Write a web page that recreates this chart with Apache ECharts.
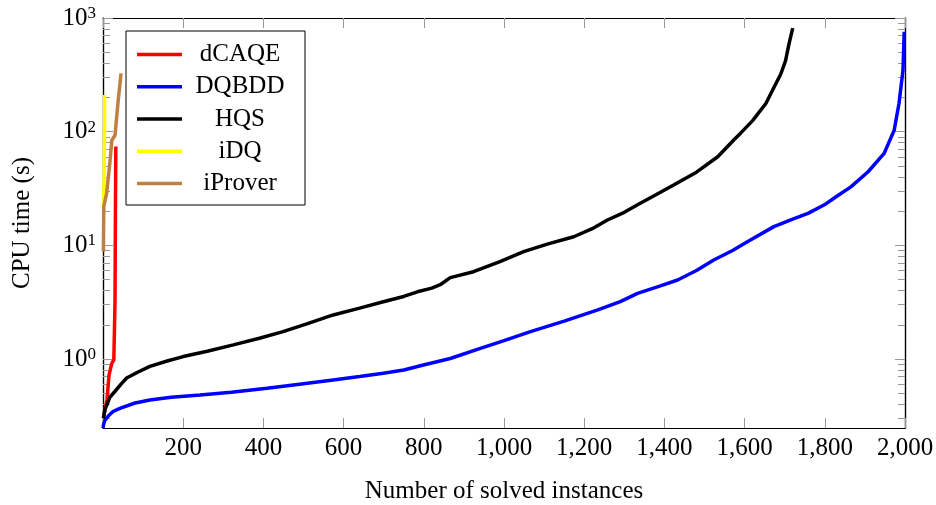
<!DOCTYPE html>
<html>
<head>
<meta charset="utf-8">
<script src="https://cdn.jsdelivr.net/npm/echarts@6/dist/echarts.min.js"></script>
<style>
html, body { margin: 0; padding: 0; background: #fff; }
#chart { width: 936px; height: 505px; }
</style>
</head>
<body>
<div id="chart"></div>
<script>
// values (x = solved instances, y = CPU time in s)
var dcaqe = [[1, 0.3], [3, 0.33], [10, 0.44], [15, 0.72], [22, 0.92], [27, 0.98], [30, 3.3], [31, 20], [32, 74]];
var dqbdd = [[0, 0.247], [2, 0.27], [5, 0.29], [15, 0.32], [25, 0.345], [42, 0.368], [80, 0.41], [117, 0.436],
    [170, 0.46], [242, 0.482], [320, 0.51], [409, 0.552], [490, 0.6], [574, 0.654], [640, 0.7], [699, 0.748],
    [750, 0.8], [799, 0.885], [866, 1.01], [941, 1.24], [1000, 1.45], [1066, 1.74], [1150, 2.15], [1234, 2.7],
    [1290, 3.2], [1333, 3.78], [1390, 4.4], [1433, 4.95], [1480, 6.0], [1523, 7.43], [1570, 9.0], [1608, 10.8],
    [1673, 14.6], [1720, 17.0], [1758, 19.1], [1798, 22.6], [1830, 27], [1865, 32.7], [1908, 44.4], [1948, 64.4],
    [1973, 103], [1985, 177], [1995, 348], [1998, 756]];
var hqs = [[1, 0.3], [5, 0.36], [17, 0.46], [30, 0.52], [45, 0.6], [59, 0.68], [85, 0.76], [117, 0.86],
    [160, 0.96], [200, 1.05], [260, 1.17], [325, 1.33], [390, 1.52], [449, 1.74], [510, 2.05], [574, 2.44],
    [640, 2.8], [699, 3.19], [750, 3.55], [784, 3.9], [820, 4.2], [841, 4.5], [866, 5.2], [924, 5.86],
    [990, 7.2], [1049, 8.79], [1110, 10.3], [1174, 11.9], [1220, 14], [1258, 16.7], [1300, 19.5], [1341, 23.6],
    [1380, 28], [1423, 33.9], [1480, 44], [1533, 60.1], [1573, 84.4], [1590, 97], [1620, 125], [1653, 177],
    [1674, 248], [1690, 320], [1702, 420], [1711, 597], [1720, 815]];
var idq = [[2, 22], [3, 45], [4, 120], [4, 210]];
var iprover = [[1, 8.8], [2, 22], [9, 28.6], [17, 52.6], [22, 84], [30, 93], [38, 190], [45, 326]];

var names = ['dCAQE', 'DQBDD', 'HQS', 'iDQ', 'iProver'];
var colors = ['#ff0000', '#0000ff', '#000000', '#ffff00', '#bf8040'];
var majorTicks = [1, 10, 100, 1000];
var minorTicks = [0.3, 0.4, 0.5, 0.6, 0.7, 0.8, 0.9, 2, 3, 4, 5, 6, 7, 8, 9,
    20, 30, 40, 50, 60, 70, 80, 90, 200, 300, 400, 500, 600, 700, 800, 900];

var font = 'Liberation Serif';
var tickColor = '#999';

function yAxisDef(pos, ticks, len, labels) {
    return {
        type: 'log',
        logBase: 10,
        min: 0.247,
        max: 1000,
        position: pos,
        axisLine: { show: true, lineStyle: { color: '#000', width: 1.2 } },
        axisTick: { show: true, inside: true, length: len, customValues: ticks, lineStyle: { color: tickColor } },
        axisLabel: labels ? {
            customValues: majorTicks,
            margin: 7,
            formatter: function (v) {
                return '{b|10}{s|' + Math.round(Math.log10(v)) + '}';
            },
            rich: {
                b: { fontFamily: font, fontSize: 25, color: '#000', lineHeight: 26 },
                s: { fontFamily: font, fontSize: 17, color: '#000', lineHeight: 14, verticalAlign: 'top' }
            }
        } : { show: false },
        splitLine: { show: false },
        minorTick: { show: false }
    };
}

var yAxes = [yAxisDef('left', majorTicks, 10, true), yAxisDef('left', minorTicks, 7, false),
    yAxisDef('right', majorTicks, 10, false), yAxisDef('right', minorTicks, 7, false)];
yAxes[0].name = 'CPU time (s)';
yAxes[0].nameLocation = 'middle';
yAxes[0].nameGap = 68;
yAxes[0].nameTextStyle = { fontFamily: font, fontSize: 25, color: '#000' };

function xAxisDef(pos, labels) {
    return {
        type: 'value',
        min: 0,
        max: 2000,
        interval: 200,
        position: pos,
        axisLine: { show: true, lineStyle: { color: '#000', width: 1.2 } },
        axisTick: { show: true, inside: true, length: 10, lineStyle: { color: tickColor } },
        axisLabel: labels ? {
            margin: 8,
            fontFamily: font,
            fontSize: 25,
            color: '#000',
            formatter: function (v) {
                if (v === 0) return '';
                return v >= 1000 ? Math.floor(v / 1000) + ',' + String(v % 1000).padStart(3, '0') : String(v);
            }
        } : { show: false },
        splitLine: { show: false }
    };
}

var xAxes = [xAxisDef('bottom', true), xAxisDef('top', false)];
xAxes[0].name = 'Number of solved instances';
xAxes[0].nameLocation = 'middle';
xAxes[0].nameGap = 51;
xAxes[0].nameTextStyle = { fontFamily: font, fontSize: 25, color: '#000' };

var allData = [dcaqe, dqbdd, hqs, idq, iprover];
var series = names.map(function (n, i) {
    return {
        name: n,
        type: 'line',
        xAxisIndex: 0,
        yAxisIndex: 0,
        data: allData[i],
        showSymbol: false,
        symbol: 'none',
        color: colors[i],
        lineStyle: { width: 3.5, color: colors[i] }
    };
});

var option = {
    animation: false,
    backgroundColor: '#fff',
    grid: { left: 103, right: 31, top: 18, bottom: 77, outerBoundsMode: 'none' },
    xAxis: xAxes,
    yAxis: yAxes,
    legend: {
        orient: 'vertical',
        left: 126,
        top: 31,
        padding: [11, 12, 9, 11],
        itemGap: 7.25,
        itemWidth: 45,
        itemHeight: 3.5,
        icon: 'rect',
        borderColor: '#000',
        borderWidth: 1,
        backgroundColor: '#fff',
        data: names,
        formatter: function (n) { return '{t|' + n + '}'; },
        textStyle: {
            rich: { t: { width: 106, align: 'center', fontFamily: font, fontSize: 25, lineHeight: 26, color: '#000' } }
        }
    },
    series: series
};

var myChart = echarts.init(document.getElementById('chart'));
myChart.setOption(option);
</script>
</body>
</html>
